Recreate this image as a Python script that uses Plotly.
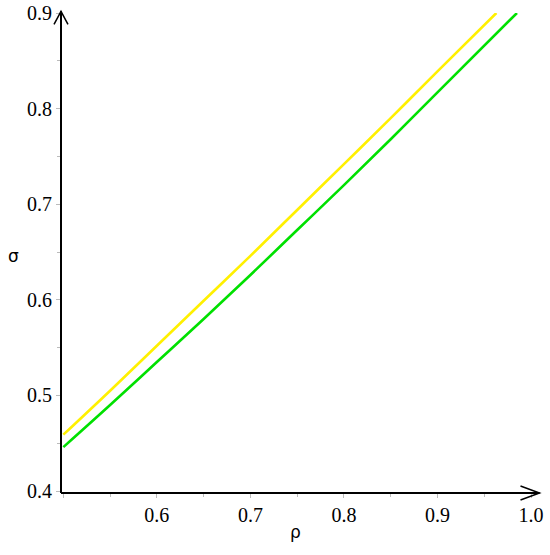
import plotly.graph_objects as go

# Data
rho_yellow = [0.5, 0.55, 0.6, 0.65, 0.7, 0.75, 0.8, 0.85, 0.9, 0.963]
sigma_yellow = [0.459, 0.505, 0.552, 0.599, 0.646, 0.694, 0.742, 0.790, 0.839, 0.9]
rho_green = [0.5, 0.55, 0.6, 0.65, 0.7, 0.75, 0.8, 0.85, 0.9, 0.985]
sigma_green = [0.446, 0.490, 0.535, 0.580, 0.626, 0.673, 0.720, 0.768, 0.817, 0.9]

x_ticks = [0.5, 0.6, 0.7, 0.8, 0.9, 1.0]
x_ticklabels = ["", "0.6", "0.7", "0.8", "0.9", "1.0"]
y_ticks = [0.4, 0.5, 0.6, 0.7, 0.8, 0.9]
y_ticklabels = ["0.4", "0.5", "0.6", "0.7", "0.8", "0.9"]
x_label = "ρ"
y_label = "σ"

W, H = 550, 555
ml, mr, mt, mb = 61, 18.5, 12.7, 62.3

fig = go.Figure()
fig.add_trace(go.Scatter(x=rho_yellow, y=sigma_yellow, mode="lines", line_shape="spline",
                         line=dict(color="#FFF000", width=2.6), showlegend=False))
fig.add_trace(go.Scatter(x=rho_green, y=sigma_green, mode="lines", line_shape="spline",
                         line=dict(color="#00E000", width=2.6), showlegend=False))

tickfont = dict(family="Liberation Serif", size=20, color="black")
fig.update_xaxes(range=[0.4975, 1.0], tickvals=x_ticks, ticktext=x_ticklabels,
                 ticks="outside", ticklen=4, tickcolor="#bbbbbb", tickwidth=1,
                 minor=dict(tickvals=[0.55, 0.65, 0.75, 0.85, 0.95], ticks="outside",
                            ticklen=3, tickcolor="#bbbbbb"),
                 showgrid=False, zeroline=False, showline=False, tickfont=tickfont,
                 automargin=False)
fig.update_yaxes(range=[0.398, 0.9], tickvals=y_ticks, ticktext=y_ticklabels,
                 ticks="outside", ticklen=4, tickcolor="#bbbbbb", tickwidth=1,
                 minor=dict(tickvals=[0.45, 0.55, 0.65, 0.75, 0.85], ticks="outside",
                            ticklen=3, tickcolor="#bbbbbb"),
                 showgrid=False, zeroline=False, showline=False, tickfont=tickfont,
                 automargin=False)

pw = W - ml - mr
ph = H - mt - mb
def px2paper_x(px):
    return (px - ml) / pw
def px2paper_y(py):
    return (H - mb - py) / ph

ax_y = 492.7
ax_x = 61
# x axis line with arrow
fig.add_shape(type="line", xref="paper", yref="paper",
              x0=px2paper_x(ax_x), x1=px2paper_x(540), y0=px2paper_y(ax_y), y1=px2paper_y(ax_y),
              line=dict(color="black", width=2))
fig.add_shape(type="path", xref="paper", yref="paper",
              path=f"M {px2paper_x(521)} {px2paper_y(ax_y-7)} L {px2paper_x(540)} {px2paper_y(ax_y)} L {px2paper_x(521)} {px2paper_y(ax_y+7)}",
              line=dict(color="black", width=1.5))
# y axis line with arrow
fig.add_shape(type="line", xref="paper", yref="paper",
              x0=px2paper_x(ax_x), x1=px2paper_x(ax_x), y0=px2paper_y(ax_y), y1=px2paper_y(11),
              line=dict(color="black", width=2))
fig.add_shape(type="path", xref="paper", yref="paper",
              path=f"M {px2paper_x(ax_x-7)} {px2paper_y(24)} L {px2paper_x(ax_x)} {px2paper_y(11)} L {px2paper_x(ax_x+7)} {px2paper_y(24)}",
              line=dict(color="black", width=1.5))

labfont = dict(family="DejaVu Sans", size=17, color="black")
fig.add_annotation(text=x_label, xref="paper", yref="paper", x=px2paper_x(296), y=px2paper_y(532),
                   showarrow=False, font=labfont, xanchor="center", yanchor="middle")
fig.add_annotation(text=y_label, xref="paper", yref="paper", x=px2paper_x(13), y=px2paper_y(256),
                   showarrow=False, font=labfont, xanchor="center", yanchor="middle")

fig.update_layout(width=W, height=H, margin=dict(l=ml, r=mr, t=mt, b=mb, autoexpand=False),
                  paper_bgcolor="white", plot_bgcolor="white")
fig.write_html("out.html", config={"displayModeBar": False},
               post_script="document.body.style.margin='0';")
